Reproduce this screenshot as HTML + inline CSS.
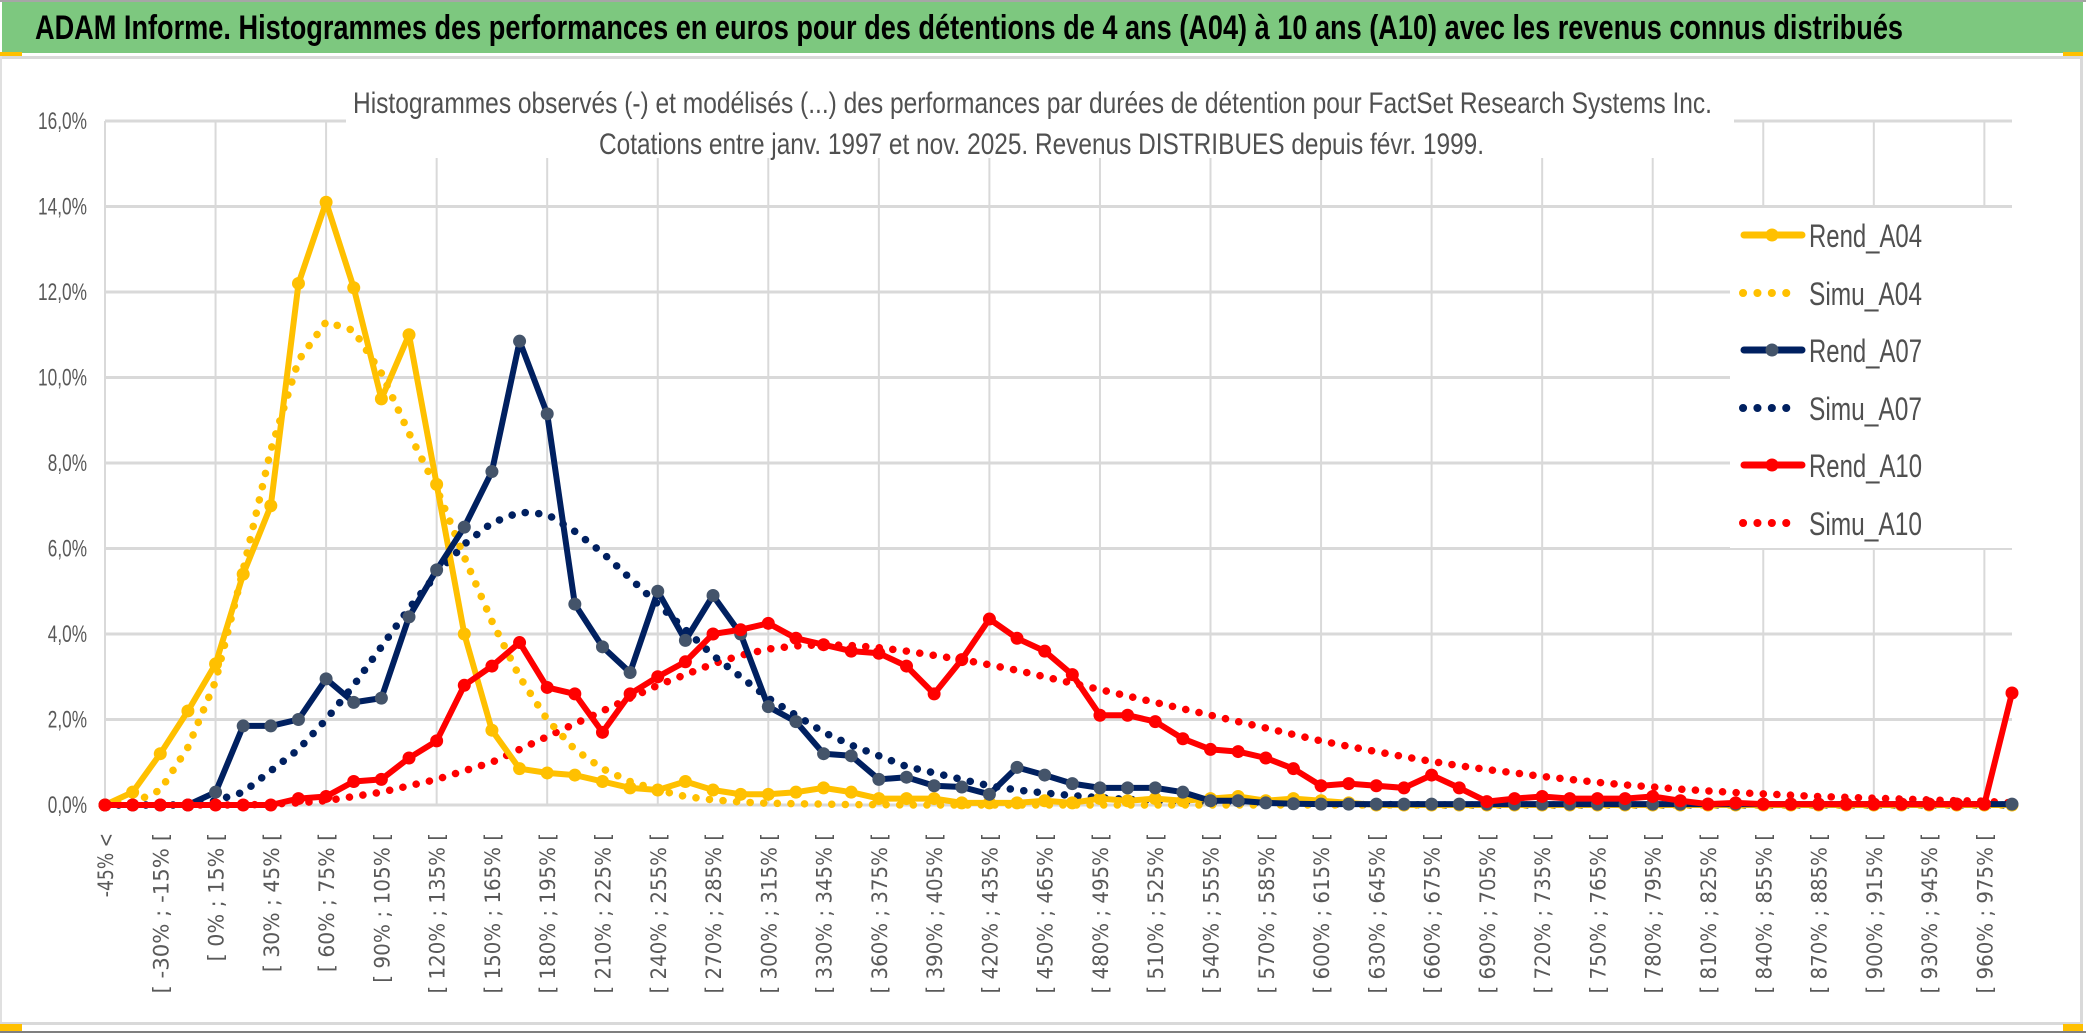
<!DOCTYPE html>
<html><head><meta charset="utf-8">
<style>
html,body{margin:0;padding:0;background:#fff;}
svg{display:block;}
</style></head>
<body>
<svg id="chart" width="2086" height="1033" viewBox="0 0 2086 1033" xmlns="http://www.w3.org/2000/svg">
  <rect x="0" y="0" width="2086" height="1033" fill="#fff"/>
  <rect x="0" y="0" width="2086" height="2" fill="#a6a6a6"/>
  <rect x="2" y="2" width="2081" height="51" fill="#7dc87f"/>
  <text x="35" y="39" font-family="Liberation Sans, sans-serif" font-weight="bold" font-size="34" fill="#000" textLength="1868" lengthAdjust="spacingAndGlyphs">ADAM Informe. Histogrammes des performances en euros pour des détentions de 4 ans (A04) à 10 ans (A10) avec les revenus connus distribués</text>
  <rect x="0" y="52" width="22" height="4" fill="#ffc000"/>
  <rect x="0" y="56" width="2083" height="3" fill="#d9d9d9"/>
  <rect x="2063" y="52" width="20" height="4" fill="#ffc000"/>
  <rect x="2080" y="56" width="3" height="968" fill="#d9d9d9"/>
  <rect x="0" y="56" width="2" height="968" fill="#e0e0e0"/>
  <rect x="0" y="1022" width="2083" height="3" fill="#d9d9d9"/>
  <rect x="0" y="1024" width="22" height="7" fill="#ffc000"/>
  <rect x="2063" y="1024" width="20" height="7" fill="#ffc000"/>
  <rect x="0" y="1031" width="2086" height="2" fill="#7f7f7f"/>
  <g id="grid"></g>
  <rect x="346" y="60" width="1388" height="98" fill="#fff"/>
  <text x="353" y="113" font-family="Liberation Sans, sans-serif" font-size="30" fill="#505050" textLength="1359" lengthAdjust="spacingAndGlyphs">Histogrammes observés (-) et modélisés (...) des performances par durées de détention pour FactSet Research Systems Inc.</text>
  <text x="599" y="154" font-family="Liberation Sans, sans-serif" font-size="30" fill="#505050" textLength="885" lengthAdjust="spacingAndGlyphs">Cotations entre janv. 1997 et nov. 2025. Revenus DISTRIBUES depuis févr. 1999.</text>
  <g id="yaxis"></g>
  <g id="xaxis"></g>
  <g id="series"></g>
  <g id="legend"></g>
</svg>
<script>
// ---- data ----
const categoryCount = 70;
const yTicks = [0, 2, 4, 6, 8, 10, 12, 14, 16];
const yTickLabels = ["0,0%","2,0%","4,0%","6,0%","8,0%","10,0%","12,0%","14,0%","16,0%"];
const seriesNames = ["Rend_A04","Simu_A04","Rend_A07","Simu_A07","Rend_A10","Simu_A10"];
const rendA04 = [0,0.3,1.2,2.2,3.3,5.4,7.0,12.2,14.1,12.1,9.5,11.0,7.5,4.0,1.75,0.85,0.75,0.7,0.55,0.4,0.35,0.55,0.35,0.25,0.25,0.3,0.4,0.3,0.15,0.15,0.15,0.05,0.05,0.05,0.1,0.05,0.15,0.1,0.15,0.1,0.15,0.2,0.1,0.15,0.1,0.05,0,0,0,0,0,0,0,0,0,0,0,0,0,0,0,0,0,0,0,0,0,0,0,0];
const simuA04 = [0,0.05,0.35,1.35,2.9,5.5,8.3,10.4,11.3,11.1,10.1,8.7,7.4,5.8,4.3,3.0,2.0,1.3,0.85,0.55,0.35,0.2,0.12,0.07,0.04,0.03,0.02,0.01,0.01,0,0,0,0,0,0,0,0,0,0,0,0,0,0,0,0,0,0,0,0,0,0,0,0,0,0,0,0,0,0,0,0,0,0,0,0,0,0,0,0,0];
const rendA07 = [0,0,0,0,0.3,1.85,1.85,2.0,2.95,2.4,2.5,4.4,5.5,6.5,7.8,10.85,9.15,4.7,3.7,3.1,5.0,3.85,4.9,4.0,2.3,1.95,1.2,1.15,0.6,0.65,0.45,0.42,0.25,0.88,0.7,0.5,0.4,0.4,0.4,0.3,0.1,0.1,0.05,0.03,0.02,0.02,0.02,0.02,0.02,0.02,0.02,0.02,0.02,0.02,0.02,0.02,0.02,0.02,0.02,0.02,0.02,0.02,0.02,0.02,0.02,0.02,0.02,0.02,0.02,0.02];
const simuA07 = [0,0,0,0,0.1,0.3,0.8,1.3,2.0,2.8,3.7,4.6,5.4,6.1,6.6,6.85,6.8,6.4,5.9,5.3,4.7,4.1,3.5,3.0,2.5,2.1,1.7,1.4,1.15,0.9,0.75,0.6,0.45,0.35,0.28,0.22,0.17,0.13,0.1,0.08,0.06,0.05,0.03,0.02,0.02,0.01,0.01,0.01,0,0,0,0,0,0,0,0,0,0,0,0,0,0,0,0,0,0,0,0,0,0];
const rendA10 = [0,0,0,0,0,0,0,0.15,0.2,0.55,0.6,1.1,1.5,2.8,3.25,3.8,2.75,2.6,1.7,2.6,3.0,3.35,4.0,4.1,4.25,3.9,3.75,3.6,3.55,3.25,2.6,3.4,4.35,3.9,3.6,3.05,2.1,2.1,1.95,1.55,1.3,1.25,1.1,0.85,0.45,0.5,0.45,0.4,0.7,0.4,0.08,0.15,0.2,0.15,0.15,0.15,0.2,0.1,0.02,0.05,0.02,0.02,0.02,0.02,0.02,0.02,0.02,0.02,0.02,2.62];
const simuA10 = [0,0,0,0,0,0,0.02,0.05,0.1,0.2,0.3,0.45,0.6,0.8,1.0,1.3,1.6,1.9,2.2,2.5,2.8,3.05,3.3,3.5,3.65,3.72,3.75,3.73,3.68,3.6,3.5,3.4,3.28,3.15,3.0,2.85,2.7,2.55,2.4,2.25,2.1,1.95,1.8,1.65,1.5,1.37,1.25,1.13,1.02,0.92,0.83,0.75,0.67,0.6,0.53,0.47,0.42,0.37,0.33,0.29,0.26,0.23,0.2,0.18,0.16,0.14,0.12,0.1,0.09,0.05];

// ---- layout ----
const NS = "http://www.w3.org/2000/svg";
const X0 = 105, X1 = 2012, Y0 = 805, Y16 = 121;
const xScale = i => X0 + i * (X1 - X0) / (categoryCount - 1);
const yScale = v => Y0 - v * (Y0 - Y16) / 16;
function mk(tag, attrs, parent) {
  const e = document.createElementNS(NS, tag);
  for (const k in attrs) e.setAttribute(k, attrs[k]);
  parent.appendChild(e);
  return e;
}
function catLabel(i) {
  if (i === 0) return "-45% <";
  const lo = -45 + (i - 1) * 15;
  return "[ " + lo + "% ; " + (lo + 15) + "% [";
}

// grid
const grid = document.getElementById('grid');
yTicks.forEach((t, k) => {
  const l = mk('line', {x1: X0, x2: X1, y1: yScale(t), y2: yScale(t), stroke: '#d9d9d9', 'stroke-width': 3}, grid);
  
  
});
for (let i = 0; i < categoryCount; i += 4) {
  const l = mk('line', {x1: xScale(i), x2: xScale(i), y1: Y16, y2: Y0, stroke: '#d9d9d9', 'stroke-width': 2}, grid);
  
  
}

// y axis
const ya = document.getElementById('yaxis');
yTicks.forEach((t, k) => {
  const lbl = yTickLabels[k];
  const tx = mk('text', {x: 87, y: yScale(t) + 8, 'text-anchor': 'end', 'font-family': 'Liberation Sans, sans-serif', 'font-size': 24, fill: '#595959', textLength: lbl.length * 9.8, lengthAdjust: 'spacingAndGlyphs'}, ya);
  tx.textContent = lbl;
  
  
});

// x axis
const xa = document.getElementById('xaxis');
for (let i = 0; i < categoryCount - 1; i += 2) {
  const x = xScale(i) + 8;
  const lbl = catLabel(i);
  const tx = mk('text', {x: 0, y: 0, 'text-anchor': 'end', 'font-family': 'DejaVu Sans, sans-serif', 'font-size': 21, fill: '#595959', textLength: lbl.length * 10.7, lengthAdjust: 'spacingAndGlyphs', transform: 'translate(' + x + ',833) rotate(-90)'}, xa);
  tx.textContent = lbl;
  
  
}

// series
const sg = document.getElementById('series');
function drawSeries(values, color, dotted, markerColor, name) {
  const pts = values.map((v, i) => xScale(i).toFixed(1) + ',' + yScale(v).toFixed(1)).join(' ');
  const g = mk('g', {}, sg);
  
  
  if (dotted) {
    const p = mk('polyline', {points: pts, fill: 'none', stroke: color, 'stroke-width': 7.5, 'stroke-linecap': 'round', 'stroke-dasharray': '0.1 13.5'}, g);
    
    
  } else {
    const p = mk('polyline', {points: pts, fill: 'none', stroke: color, 'stroke-width': 6, 'stroke-linejoin': 'round'}, g);
    
    
    values.forEach((v, i) => {
      const c = mk('circle', {cx: xScale(i), cy: yScale(v), r: 6.5, fill: markerColor}, g);
      
      
    });
  }
}
drawSeries(simuA10, '#ff0000', true, null, 'simu-a10');
drawSeries(simuA07, '#002060', true, null, 'simu-a07');
drawSeries(simuA04, '#ffc000', true, null, 'simu-a04');
drawSeries(rendA04, '#ffc000', false, '#ffc000', 'rend-a04');
drawSeries(rendA07, '#002060', false, '#44546a', 'rend-a07');
drawSeries(rendA10, '#ff0000', false, '#ff0000', 'rend-a10');

// legend
const lg = document.getElementById('legend');
const bg = mk('rect', {x: 1730, y: 208, width: 282, height: 340, fill: '#fff'}, lg);


const legColors = ['#ffc000','#ffc000','#002060','#002060','#ff0000','#ff0000'];
const legMarker = ['#ffc000',null,'#44546a',null,'#ff0000',null];
const legY = [235, 293, 350, 408, 465, 523];
seriesNames.forEach((n, k) => {
  const g = mk('g', {}, lg);
  
  
  const y = legY[k];
  if (legMarker[k]) {
    mk('line', {x1: 1744, x2: 1802, y1: y, y2: y, stroke: legColors[k], 'stroke-width': 7, 'stroke-linecap': 'round'}, g);
    mk('circle', {cx: 1772, cy: y, r: 6.5, fill: legMarker[k]}, g);
  } else {
    const end = (k === 5) ? 1800 : 1788;
    mk('line', {x1: 1743, x2: end, y1: y, y2: y, stroke: legColors[k], 'stroke-width': 8, 'stroke-linecap': 'round', 'stroke-dasharray': '0.1 14.3'}, g);
  }
  const t = mk('text', {x: 1809, y: y + 12, 'font-family': 'Liberation Sans, sans-serif', 'font-size': 32, fill: '#505050', textLength: 113, lengthAdjust: 'spacingAndGlyphs'}, g);
  t.textContent = n;
});
</script>
</body></html>
